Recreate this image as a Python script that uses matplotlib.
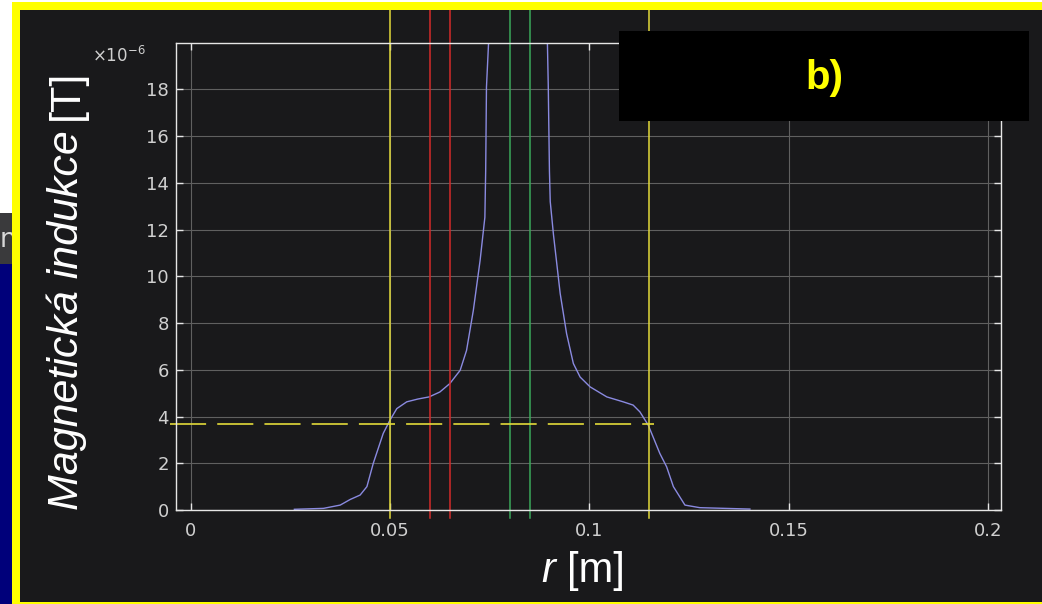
import matplotlib
matplotlib.use("Agg")
import matplotlib.pyplot as plt
from matplotlib.patches import Rectangle
from matplotlib.transforms import Bbox, TransformedBbox

# profil |B| odecteny ze screenshotu (r v m, B v 1e-6 T)
r_vals = [0.0260, 0.0333, 0.0375, 0.0400, 0.0425, 0.0442, 0.0458, 0.0483, 0.0500, 0.0517,
          0.0542, 0.0570, 0.0598, 0.0625, 0.0650, 0.0676, 0.0692, 0.0709, 0.0726, 0.0738,
          0.0740, 0.0742, 0.0747, 0.0750,
          0.0892, 0.0895, 0.0897, 0.0900, 0.0902, 0.0910, 0.0927, 0.0943, 0.0960, 0.0977,
          0.1002, 0.1044, 0.1085, 0.1110, 0.1127, 0.1148, 0.1177, 0.1194, 0.1211, 0.1240,
          0.1277, 0.1403]
b_vals = [0.03, 0.07, 0.21, 0.45, 0.64, 1.00, 2.00, 3.28, 3.85, 4.34,
          4.63, 4.75, 4.84, 5.05, 5.41, 5.98, 6.83, 8.54, 10.68, 12.53,
          14.50, 18.10, 19.90, 21.00,
          21.00, 19.90, 18.20, 14.50, 13.20, 11.80, 9.26, 7.55, 6.27, 5.69,
          5.27, 4.84, 4.63, 4.49, 4.20, 3.63, 2.42, 1.85, 1.00, 0.21,
          0.10, 0.04]

yellow_r = [0.05, 0.115]
red_r = [0.06, 0.065]
green_r = [0.08, 0.085]
b_level = 3.66

x_ticks = [0, 0.05, 0.1, 0.15, 0.2]
x_labels = ["0", "0.05", "0.1", "0.15", "0.2"]
y_ticks = list(range(0, 20, 2))

W, H = 1042, 604
BG = "#19191b"
YEL = "#e2da3a"

plt.rcParams["lines.scale_dashes"] = False
fig = plt.figure(figsize=(W / 100, H / 100), dpi=100, facecolor="white")


def fx(px):
    return px / W


def fy(py):
    return 1 - py / H


def box(x0, y0, x1, y1, color, z):
    fig.add_artist(Rectangle((fx(x0), fy(y1)), (x1 - x0) / W, (y1 - y0) / H,
                             transform=fig.transFigure, facecolor=color,
                             edgecolor="none", zorder=z))


# pozadi screenshotu
box(0, 213, 12, 264, "#3a3a3c", -5)
box(0, 264, 12, 604, "#00007a", -5)
fig.text(fx(0), fy(247), "n", fontsize=19, color="#d8d8d8", zorder=-4)
box(12, 2, 1042, 604, "#ffff00", -3)
box(20, 10, 1042, 602, BG, -2)

ax = fig.add_axes([fx(176), fy(510), 825 / W, 467.3 / H])
ax.set_facecolor(BG)
ax.plot(r_vals, b_vals, color="#8a8ae0", lw=1.0)

frame = TransformedBbox(Bbox.from_extents(fx(20), fy(602), fx(1042), fy(10)), fig.transFigure)
for xs, col in [(yellow_r, YEL), (red_r, "#d42a2a"), (green_r, "#3aa85a")]:
    for x in xs:
        ln = ax.axvline(x, ymin=-0.017, ymax=1.2, color=col, lw=1.1)
        ln.set_clip_box(frame)
        ln.set_clip_path(None)

ax.plot([-0.0052, 0.1162], [b_level, b_level], color=YEL, lw=1.2,
        dashes=(26, 8), clip_on=False)

ax.set_xlim(-0.0037, 0.2033)
ax.set_ylim(0, 20)
ax.set_xticks(x_ticks)
ax.set_xticklabels(x_labels)
ax.set_yticks(y_ticks)
ax.grid(True, color="#606060", lw=0.8)
for s in ax.spines.values():
    s.set_color("#e6e6e6")
    s.set_linewidth(1.0)
ax.tick_params(direction="in", length=5, width=1, colors="#e6e6e6",
               labelcolor="#d0d0d0", labelsize=13, top=True, right=True)
ax.tick_params(axis="x", pad=9)
ax.tick_params(axis="y", pad=5)

fig.text(fx(92), fy(62), r"$\times10^{-6}$", fontsize=12, color="#d0d0d0")

# popisky os
renderer = fig.canvas.get_renderer()
lab = dict(fontsize=31, color="white", family="Liberation Sans")
t1 = fig.text(fx(78), fy(510), "Magnetická indukce", rotation=90, rotation_mode="anchor",
              ha="left", va="baseline", style="italic", **lab)
bb = t1.get_window_extent(renderer=renderer)
fig.text(fx(78), (bb.y1 + 10) / H, "[T]", rotation=90, rotation_mode="anchor",
         ha="left", va="baseline", **lab)

lab["fontsize"] = 30
tr = fig.text(fx(541), fy(582), "r", style="italic", va="baseline", **lab)
bb = tr.get_window_extent(renderer=renderer)
fig.text((bb.x1 + 12) / W, fy(582), "[m]", va="baseline", **lab)

# cerny stitek
box(619, 31, 1029, 121, "black", 5)
fig.text(fx(824), fy(78), "b)", ha="center", va="center", fontsize=29,
         weight="bold", color="#ffff00", family="Liberation Sans", zorder=6)

fig.savefig("out.png", dpi=100, facecolor=fig.get_facecolor())
